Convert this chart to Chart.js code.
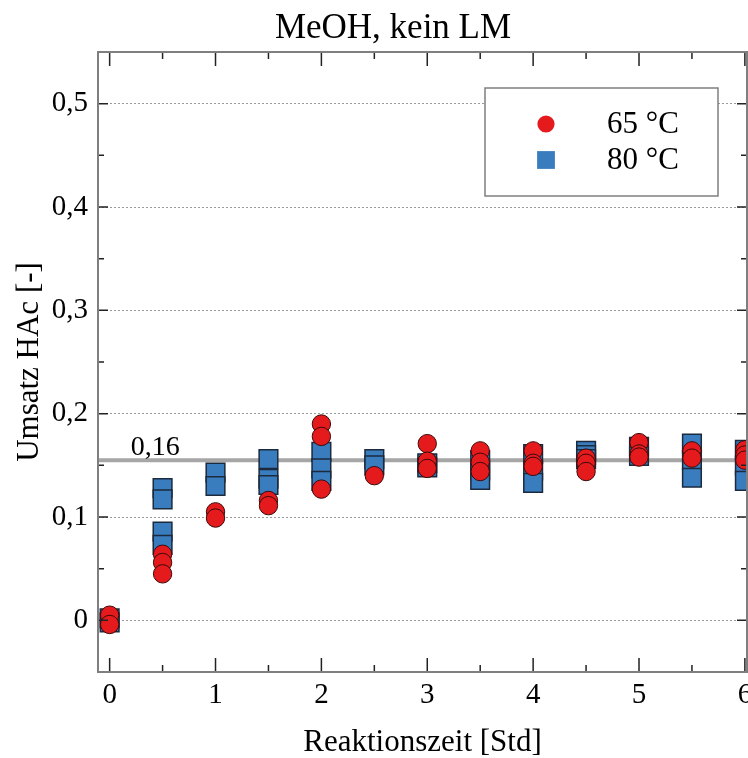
<!DOCTYPE html>
<html>
<head>
<meta charset="utf-8">
<script src="https://cdn.jsdelivr.net/npm/chart.js@4/dist/chart.umd.min.js"></script>
<style>
  body { margin: 0; background: #fff; }
</style>
</head>
<body>
<canvas id="chart" width="748" height="758"></canvas>
<script>
const titleText = 'MeOH, kein LM';
const xTitle = 'Reaktionszeit [Std]';
const yTitle = 'Umsatz HAc [-]';

// 65 °C runs
const time65 = [0, 0, 0.5, 0.5, 0.5, 1, 1, 1.5, 1.5, 2, 2, 2, 2.5, 3, 3, 3, 3.5, 3.5, 3.5, 4, 4, 4, 4.5, 4.5, 4.5, 5, 5, 5, 5.5, 5.5, 6, 6, 6];
const conv65 = [0.005, -0.004, 0.064, 0.056, 0.045, 0.105, 0.099, 0.116, 0.111, 0.190, 0.178, 0.127, 0.140, 0.171, 0.154, 0.147, 0.164, 0.153, 0.144, 0.164, 0.152, 0.149, 0.157, 0.152, 0.144, 0.172, 0.161, 0.158, 0.164, 0.157, 0.165, 0.160, 0.155];

// 80 °C runs
const time80 = [0, 0, 0.5, 0.5, 0.5, 0.5, 1, 1, 1.5, 1.5, 1.5, 2, 2, 2, 2.5, 2.5, 3, 3, 3.5, 3.5, 3.5, 4, 4, 4, 4.5, 4.5, 4.5, 5, 5, 5.5, 5.5, 5.5, 6, 6, 6];
const conv80 = [0.002, -0.002, 0.128, 0.117, 0.086, 0.073, 0.143, 0.130, 0.156, 0.137, 0.131, 0.163, 0.147, 0.135, 0.156, 0.150, 0.152, 0.148, 0.155, 0.145, 0.136, 0.161, 0.145, 0.133, 0.164, 0.160, 0.156, 0.168, 0.159, 0.171, 0.155, 0.138, 0.165, 0.150, 0.135];

const meanValue = 0.155;
const meanLabel = '0,16';

const xTicks = [0, 0.5, 1, 1.5, 2, 2.5, 3, 3.5, 4, 4.5, 5, 5.5, 6];
const xLabels = ['0', '', '1', '', '2', '', '3', '', '4', '', '5', '', '6'];
const yTicks = [0, 0.1, 0.2, 0.3, 0.4, 0.5];
const yLabels = ['0', '0,1', '0,2', '0,3', '0,4', '0,5'];
const yMinor = [-0.05, 0.05, 0.15, 0.25, 0.35, 0.45, 0.55];

const xMin = -0.11, xMax = 6.02;
const yMin = -0.05, yMax = 0.55;

const serif = '"Liberation Serif", "Times New Roman", serif';

function points(xs, ys) {
  return xs.map(function(x, i) { return { x: x, y: ys[i] }; });
}

function noPadding() {
  return { left: 0, top: 0, right: 0, bottom: 0 };
}

const framePlugin = {
  id: 'frame',
  afterDraw: function(chart) {
    const ctx = chart.ctx;
    const a = chart.chartArea;
    const xs = chart.scales.x, ys = chart.scales.y;
    ctx.save();

    // inward tick marks
    ctx.strokeStyle = '#222';
    ctx.lineWidth = 1.5;
    xTicks.forEach(function(v, i) {
      const px = xs.getPixelForValue(v);
      const len = xLabels[i] ? 14 : 7;
      ctx.beginPath();
      ctx.moveTo(px, a.bottom); ctx.lineTo(px, a.bottom - len);
      ctx.moveTo(px, a.top); ctx.lineTo(px, a.top + len);
      ctx.stroke();
    });
    yTicks.concat(yMinor).forEach(function(v, i) {
      const py = ys.getPixelForValue(v);
      const len = i < yTicks.length ? 10 : 6;
      ctx.beginPath();
      ctx.moveTo(a.left, py); ctx.lineTo(a.left + len, py);
      ctx.moveTo(a.right, py); ctx.lineTo(a.right - len, py);
      ctx.stroke();
    });

    // box
    ctx.strokeStyle = '#7f7f7f';
    ctx.lineWidth = 2;
    ctx.strokeRect(a.left, a.top, a.right - a.left, a.bottom - a.top);

    // mean label
    ctx.fillStyle = '#000';
    ctx.font = '28px ' + serif;
    ctx.textAlign = 'left';
    ctx.textBaseline = 'alphabetic';
    ctx.fillText(meanLabel, xs.getPixelForValue(0.2), ys.getPixelForValue(meanValue) - 5);

    // title
    ctx.font = '35px ' + serif;
    ctx.textAlign = 'center';
    ctx.textBaseline = 'middle';
    ctx.fillText(titleText, 393, 29);

    // legend
    const lx = 485, ly = 88, lw = 233, lh = 108;
    ctx.fillStyle = '#fff';
    ctx.fillRect(lx, ly, lw, lh);
    ctx.strokeStyle = '#7f7f7f';
    ctx.lineWidth = 1.5;
    ctx.strokeRect(lx, ly, lw, lh);
    const entries = [chart.data.datasets[0], chart.data.datasets[1]];
    entries.forEach(function(ds, i) {
      const cy = ly + 36 + i * 36;
      ctx.fillStyle = ds.backgroundColor;
      ctx.strokeStyle = ds.borderColor;
      ctx.lineWidth = ds.borderWidth;
      Chart.helpers.drawPoint(ctx, { pointStyle: ds.pointStyle, radius: ds.pointRadius - 0.6, rotation: 0 }, lx + 61, cy);
      ctx.fillStyle = '#000';
      ctx.font = '31px ' + serif;
      ctx.textAlign = 'left';
      ctx.textBaseline = 'middle';
      ctx.fillText(ds.label, lx + 122, cy + 1);
    });
    ctx.restore();
  }
};

const chart = new Chart(document.getElementById('chart').getContext('2d'), {
  type: 'scatter',
  plugins: [framePlugin],
  data: {
    datasets: [
      {
        label: '65 °C',
        data: points(time65, conv65),
        pointStyle: 'circle',
        pointRadius: 9.2,
        backgroundColor: '#e41a1c',
        borderColor: '#3b0a0a',
        borderWidth: 1
      },
      {
        label: '80 °C',
        data: points(time80, conv80),
        pointStyle: 'rect',
        pointRadius: 13.2,
        backgroundColor: '#3a7dbf',
        borderColor: '#1b2a3c',
        borderWidth: 1.5
      },
      {
        type: 'line',
        label: 'Mittelwert',
        data: [{ x: xMin, y: meanValue }, { x: xMax, y: meanValue }],
        borderColor: '#a6a6a6',
        borderWidth: 4,
        pointRadius: 0
      }
    ]
  },
  options: {
    responsive: false,
    animation: false,
    layout: { autoPadding: false, padding: { top: 52, right: 1, left: 0, bottom: 0 } },
    plugins: {
      legend: { display: false },
      title: { display: false },
      tooltip: { enabled: false }
    },
    scales: {
      x: {
        type: 'linear',
        min: xMin,
        max: xMax,
        afterBuildTicks: function(s) { s.ticks = xTicks.map(function(v) { return { value: v }; }); },
        afterFit: function(s) { s.height = 86; s.getPadding = noPadding; },
        grid: { display: false, drawTicks: false },
        border: { display: false },
        ticks: {
          autoSkip: false,
          maxRotation: 0,
          padding: 6,
          color: '#000',
          font: { family: serif, size: 29 },
          callback: function(value, index) { return xLabels[index]; }
        },
        title: {
          display: true,
          text: xTitle,
          color: '#000',
          font: { family: serif, size: 31 },
          padding: { top: 0, bottom: -3 }
        }
      },
      y: {
        min: yMin,
        max: yMax,
        afterBuildTicks: function(s) { s.ticks = yTicks.map(function(v) { return { value: v }; }); },
        afterFit: function(s) { s.width = 98; s.getPadding = noPadding; },
        grid: { color: '#9a9a9a', lineWidth: 1, drawTicks: false },
        border: { display: false, dash: [2, 2] },
        ticks: {
          autoSkip: false,
          padding: 10,
          color: '#000',
          font: { family: serif, size: 29 },
          callback: function(value, index) { return yLabels[index]; }
        },
        title: {
          display: true,
          text: yTitle,
          color: '#000',
          font: { family: serif, size: 31 },
          padding: { top: 11, bottom: 0 }
        }
      }
    }
  }
});
</script>
</body>
</html>
